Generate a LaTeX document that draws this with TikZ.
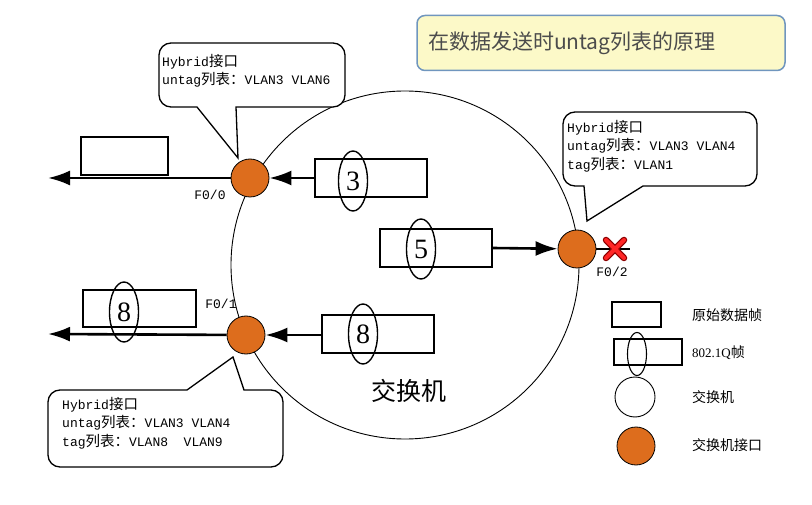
\documentclass[tikz,border=0pt]{standalone}
\usepackage{fontspec}
\setmainfont{Liberation Serif}
\newfontfamily\cjk{Noto Sans CJK SC}
\newfontfamily\mono{Liberation Mono}
\usetikzlibrary{shapes,arrows.meta}
\definecolor{portorange}{RGB}{221,109,29}
\definecolor{notefill}{RGB}{252,249,200}
\definecolor{noteline}{RGB}{112,150,190}
\newcommand{\zh}[1]{{\fontsize{14.5}{18}\cjk #1}}

\begin{document}
\begin{tikzpicture}[x=1pt, y=-1pt,
  frame/.style={draw, line width=1.4pt, minimum width=112pt, minimum height=38pt, inner sep=0pt},
  tagmark/.style={draw, ellipse, line width=1.4pt, minimum width=29pt, minimum height=60pt, inner sep=0pt, font=\fontsize{28}{28}\selectfont},
  port/.style={circle, draw, line width=0.8pt, fill=portorange, minimum size=38pt, inner sep=0pt},
  send/.style={line width=2.6pt, -{Latex[length=22pt, width=15pt]}},
  balloon/.style={draw, line width=1.3pt, fill=white},
  cfg/.style={anchor=north west, align=left, inner sep=0pt, font=\fontsize{13}{18.5}\selectfont\mono},
  ifname/.style={font=\fontsize{13}{13}\selectfont\mono},
  legend/.style={anchor=west, inner sep=0pt, font=\fontsize{14}{14}\selectfont\cjk}]

  \useasboundingbox (0,0) rectangle (812,505);

  \node [draw=noteline, line width=1.5pt, fill=notefill, rounded corners=8pt, text width=346pt, align=left,
         inner xsep=11pt, minimum height=55pt, text=black!70, font=\fontsize{21}{21}\selectfont\cjk] (title) at (601,43) {在数据发送时untag列表的原理};

  \node [draw, circle, line width=0.9pt, minimum size=348pt, inner sep=0pt] (switch) at (405,265) {};
  \node [font=\fontsize{25}{25}\selectfont\cjk] (swname) at (409,391) {交换机};

  \draw [balloon] (159,75) [rounded corners=12pt] -- (159,43) -- (345,43) -- (345,107) [sharp corners] -- (236,107)
        -- (238,158) -- (197,107) [rounded corners=12pt] -- (159,107) -- cycle;
  \node [cfg] (cfg0) at (162,54) {Hybrid\zh{接口}\\untag\zh{列表：}VLAN3 VLAN6};

  \draw [balloon] (563,150) [rounded corners=12pt] -- (563,112) -- (757,112) -- (757,186) [sharp corners] -- (643,186)
        -- (587,221) -- (584,186) [rounded corners=12pt] -- (563,186) -- cycle;
  \node [cfg] (cfg2) at (567,120) {Hybrid\zh{接口}\\untag\zh{列表：}VLAN3 VLAN4\\tag\zh{列表：}VLAN1};

  \draw [balloon] (48,430) [rounded corners=12pt] -- (48,390) [sharp corners] -- (187,390) -- (233,357)
        -- (244,390) [rounded corners=12pt] -- (283,390) -- (283,467) -- (48,467) -- cycle;
  \node [cfg] (cfg1) at (62,397) {Hybrid\zh{接口}\\untag\zh{列表：}VLAN3 VLAN4\\tag\zh{列表：}VLAN8\ \ VLAN9};

  \node [frame] (f3) at (371,178) {};
  \node [tagmark] (t3) at (353,181) {3};
  \node [frame] (f5) at (436,248) {};
  \node [tagmark] (t5) at (421,249) {5};
  \node [frame] (f8) at (378,334) {};
  \node [tagmark] (t8) at (363,334) {8};
  \node [frame, minimum width=87pt] (f0out) at (124.5,156) {};
  \node [frame, minimum width=113pt, minimum height=37pt] (f1out) at (139.5,308.5) {};
  \node [tagmark] (t1out) at (124,312) {8};

  \node [port] (p0) at (250,178) {};
  \node [port] (p1) at (246,335) {};
  \node [port] (p2) at (577,249) {};
  \node [ifname] (n0) at (210,195) {F0/0};
  \node [ifname] (n1) at (221,304) {F0/1};
  \node [ifname] (n2) at (612,272) {F0/2};

  \coordinate (out0) at (48,178);
  \coordinate (out1) at (48,334);
  \coordinate (drop) at (630,249);
  \draw [send] (f3.west |- p0) -- (p0);
  \draw [send] (f5.east) -- (p2);
  \draw [send] (f8.west |- p1) -- (p1);
  \draw [send] (p0) -- (out0);
  \draw [send] (p1) -- (out1);
  \draw [line width=2.6pt] (p2) -- (drop);
  \draw [line width=6.5pt, red!55!black, line cap=round] (606,240) -- (624,258) (606,258) -- (624,240);
  \draw [line width=4pt, red!85!white, line cap=round] (606,240) -- (624,258) (606,258) -- (624,240);

  \node [frame, line width=1.1pt, minimum width=49pt, minimum height=25pt] (lgraw) at (636.5,314.5) {};
  \node [legend] (lgrawtxt) at (692,315) {原始数据帧};
  \node [frame, line width=1.1pt, minimum width=68pt, minimum height=26pt] (lgtag) at (648,352) {};
  \node [tagmark, line width=1.1pt, minimum width=19pt, minimum height=43pt] (lgmark) at (637,354) {};
  \node [legend] (lgtagtxt) at (692,353) {{\fontsize{13}{13}\selectfont\rmfamily 802.1Q}帧};
  \node [draw, circle, line width=0.9pt, minimum size=40pt, inner sep=0pt] (lgsw) at (635,397) {};
  \node [legend] (lgswtxt) at (692,397) {交换机};
  \node [port] (lgport) at (636,446) {};
  \node [legend] (lgporttxt) at (692,445) {交换机接口};
\end{tikzpicture}
\end{document}
